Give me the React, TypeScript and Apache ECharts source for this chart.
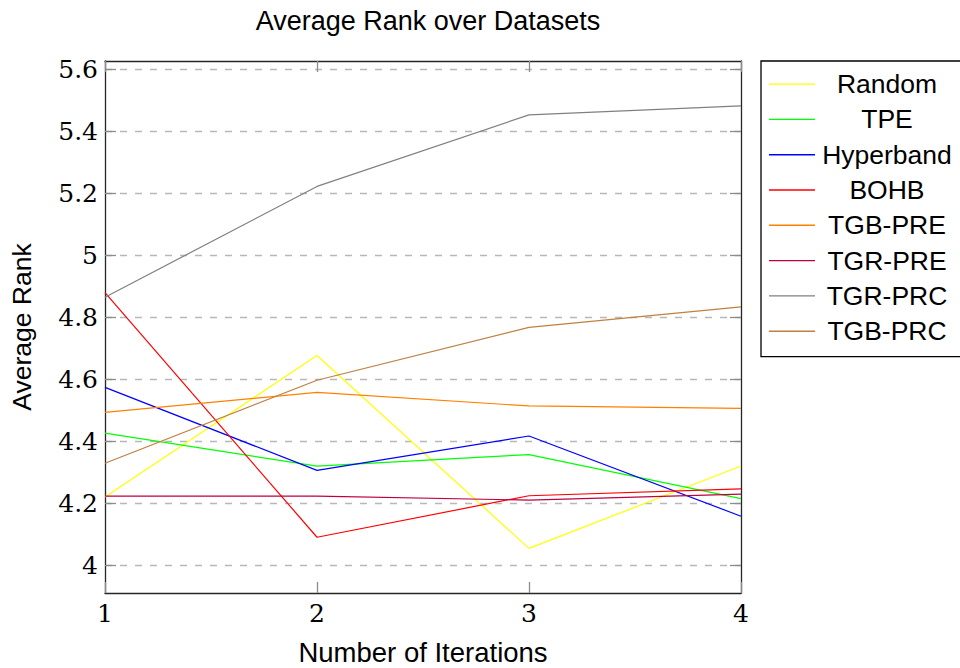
import React, { useEffect, useRef } from "react";
import * as echarts from "echarts";

// Iteration counts on the x axis
const iterations = [1, 2, 3, 4];

// Average rank of each optimiser per iteration count
const seriesNames = [
  "Random",
  "TPE",
  "Hyperband",
  "BOHB",
  "TGB-PRE",
  "TGR-PRE",
  "TGR-PRC",
  "TGB-PRC",
];
const randomRank = [4.22, 4.677, 4.054, 4.32];
const tpeRank = [4.426, 4.32, 4.357, 4.215];
const hyperbandRank = [4.574, 4.306, 4.417, 4.158];
const bohbRank = [4.88, 4.09, 4.224, 4.246];
const tgbPreRank = [4.493, 4.558, 4.514, 4.506];
const tgrPreRank = [4.223, 4.223, 4.21, 4.229];
const tgrPrcRank = [4.865, 5.223, 5.454, 5.483];
const tgbPrcRank = [4.329, 4.597, 4.768, 4.834];

const seriesValues = [
  randomRank,
  tpeRank,
  hyperbandRank,
  bohbRank,
  tgbPreRank,
  tgrPreRank,
  tgrPrcRank,
  tgbPrcRank,
];
const seriesColors = [
  "#ffff00",
  "#00ff00",
  "#0000ff",
  "#ff0000",
  "#ff8000",
  "#bf0040",
  "#808080",
  "#bf8040",
];

// Tick positions
const yTicks = [4, 4.2, 4.4, 4.6, 4.8, 5, 5.2, 5.4, 5.6];
const xTicks = [1, 2, 3, 4];

const Y_MIN = 3.91;
const Y_MAX = 5.628;

const SERIF = "'DejaVu Serif', serif";
const SANS = "'Liberation Sans', sans-serif";

export default function App() {
  const ref = useRef<HTMLDivElement>(null);

  useEffect(() => {
    if (!ref.current) return;
    const chart = echarts.init(ref.current, undefined, { renderer: "svg" });

    const frameLine = { show: true, lineStyle: { color: "#262626", width: 1.3 } };
    const innerTick = {
      show: true,
      inside: true,
      length: 11,
      lineStyle: { color: "#8c8c8c", width: 1.3 },
    };

    chart.setOption({
      animation: false,
      backgroundColor: "#ffffff",
      title: {
        text: "Average Rank over Datasets",
        left: 423,
        textAlign: "center",
        top: 2,
        textStyle: {
          fontFamily: SANS,
          fontSize: 27,
          fontWeight: "normal",
          color: "#000",
        },
      },
      grid: {
        left: 105,
        right: 219,
        top: 61,
        bottom: 75,
        containLabel: false,
        outerBoundsMode: "none",
      },
      legend: {
        orient: "vertical",
        left: 761,
        top: 61,
        padding: [9.6, 8, 12, 8],
        icon: "rect",
        itemWidth: 46,
        itemHeight: 1.4,
        itemGap: 8.3,
        borderColor: "#000",
        borderWidth: 1.3,
        backgroundColor: "#fff",
        data: seriesNames,
        formatter: (name: string) => `{t|${name}}`,
        textStyle: {
          rich: {
            t: {
              width: 134,
              align: "center",
              fontFamily: SANS,
              fontSize: 26.5,
              lineHeight: 30,
              color: "#000",
            },
          },
        },
      },
      xAxis: [
        {
          type: "value",
          min: 1,
          max: 4,
          interval: 1,
          name: "Number of Iterations",
          nameLocation: "middle",
          nameGap: 45,
          nameTextStyle: { fontFamily: SANS, fontSize: 27.5, color: "#000" },
          axisLine: frameLine,
          axisTick: innerTick,
          axisLabel: {
            margin: 8,
            fontFamily: SERIF,
            fontSize: 25,
            color: "#000",
            customValues: xTicks,
          },
          splitLine: { show: false },
        },
        {
          type: "value",
          position: "top",
          min: 1,
          max: 4,
          interval: 1,
          axisLine: frameLine,
          axisTick: innerTick,
          axisLabel: { show: false },
          splitLine: { show: false },
        },
      ],
      yAxis: [
        {
          type: "value",
          min: Y_MIN,
          max: Y_MAX,
          name: "Average Rank",
          nameLocation: "middle",
          nameGap: 70,
          nameTextStyle: { fontFamily: SANS, fontSize: 26.5, color: "#000" },
          axisLine: frameLine,
          axisTick: { ...innerTick, customValues: yTicks },
          axisLabel: {
            margin: 7,
            fontFamily: SERIF,
            fontSize: 25,
            color: "#000",
            customValues: yTicks,
            formatter: (v: number) => `${Math.round(v * 10) / 10}`,
          },
          splitLine: {
            show: true,
            lineStyle: { color: "#b8b8b8", width: 1.3, type: [7, 8] },
          },
        },
        {
          type: "value",
          position: "right",
          min: Y_MIN,
          max: Y_MAX,
          axisLine: frameLine,
          axisTick: { ...innerTick, customValues: yTicks },
          axisLabel: { show: false, customValues: yTicks },
          splitLine: { show: false },
        },
      ],
      series: seriesNames.map((name, i) => ({
        name,
        type: "line",
        xAxisIndex: 0,
        yAxisIndex: 0,
        symbol: "none",
        color: seriesColors[i],
        lineStyle: { color: seriesColors[i], width: 1.2 },
        data: iterations.map((x, j) => [x, seriesValues[i][j]]),
      })),
    });

    return () => chart.dispose();
  }, []);

  return (
    <div
      ref={ref}
      style={{ position: "fixed", left: 0, top: 0, width: 960, height: 668 }}
    />
  );
}
